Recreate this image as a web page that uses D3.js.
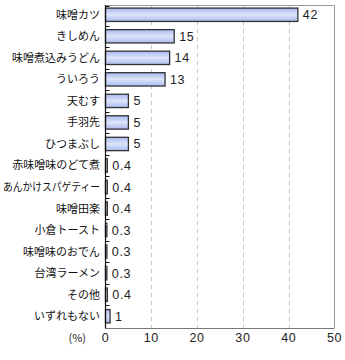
<!DOCTYPE html>
<html><head><meta charset="utf-8">
<script src="https://cdn.jsdelivr.net/npm/d3@7/dist/d3.min.js"></script>
<style>
body{margin:0;background:#fff;}
svg{display:block;}
</style></head>
<body>
<script>
const categories = ["味噌カツ","きしめん","味噌煮込みうどん","ういろう","天むす","手羽先","ひつまぶし","赤味噌味のどて煮","あんかけスパゲティー","味噌田楽","小倉トースト","味噌味のおでん","台湾ラーメン","その他","いずれもない"];
const values = [42,15,14,13,5,5,5,0.4,0.4,0.4,0.3,0.3,0.3,0.4,1];
const valueLabels = ["42","15","14","13","5","5","5","0.4","0.4","0.4","0.3","0.3","0.3","0.4","1"];
const xTicks = [0,10,20,30,40,50];
const unitLabel = "(%)";

const W=345,H=360;
const L=105.5,R=334.5,T=5,B=328;
const svg=d3.select("body").append("svg").attr("width",W).attr("height",H);
const defs=svg.append("defs");
const g=defs.append("linearGradient").attr("id","bg").attr("x1",0).attr("y1",0).attr("x2",0).attr("y2",1);
g.append("stop").attr("offset","0%").attr("stop-color","#a9b9ee");
g.append("stop").attr("offset","50%").attr("stop-color","#dde5fb");
g.append("stop").attr("offset","100%").attr("stop-color","#a9b9ee");

const x=d3.scaleLinear().domain([0,50]).range([L,R]);
const y=d3.scaleBand().domain(categories).range([T-1,B-1]).paddingInner(0.38).paddingOuter(0.19);

// grid lines
svg.append("g").selectAll("line").data(xTicks.filter(t=>t>0&&t<50)).join("line")
  .attr("x1",d=>Math.round(x(d))+0.5).attr("x2",d=>Math.round(x(d))+0.5)
  .attr("y1",T).attr("y2",B)
  .attr("stroke","#c4c4c4").attr("stroke-dasharray","4,4").attr("stroke-width",1);

// frame top/right/bottom
svg.append("path").attr("d",`M${L},${T+0.5}H${R}V${B}`).attr("fill","none").attr("stroke","#999").attr("stroke-width",1);
svg.append("line").attr("x1",L).attr("x2",R).attr("y1",B+0.5).attr("y2",B+0.5).attr("stroke","#777");

// bars
svg.append("g").selectAll("rect").data(values).join("rect")
  .attr("x",x(0)).attr("y",(d,i)=>y(categories[i]))
  .attr("width",d=>x(d)-x(0)).attr("height",y.bandwidth())
  .attr("fill","url(#bg)").attr("stroke","#333").attr("stroke-width",1.3);

// value labels
svg.append("g").selectAll("text").data(values).join("text")
  .attr("x",d=>x(d)+5).attr("y",(d,i)=>y(categories[i])+y.bandwidth()/2)
  .attr("dy","0.36em")
  .style("font-family","'Liberation Sans',Arial,sans-serif").style("font-size","12.5px")
  .style("letter-spacing","0.6px").attr("fill","#222")
  .text((d,i)=>valueLabels[i]);

// left axis
svg.append("line").attr("x1",L).attr("x2",L).attr("y1",T).attr("y2",B+0.5).attr("stroke","#111").attr("stroke-width",1.2);
const step=y.step();
const tickYs=d3.range(categories.length+1).map(i=>i===0?T+0.5:y(categories[i-1])+y.bandwidth()+(step-y.bandwidth())/2);
svg.append("g").selectAll("line").data(tickYs.slice(0,-1)).join("line")
  .attr("x1",L).attr("x2",L+4).attr("y1",d=>Math.round(d)+0.5).attr("y2",d=>Math.round(d)+0.5)
  .attr("stroke","#111");

// category labels
const maxW=97;
svg.append("g").selectAll("text").data(categories).join("text")
  .attr("x",100).attr("y",d=>y(d)+y.bandwidth()/2).attr("dy","0.36em")
  .attr("text-anchor","end")
  .style("font-family","'Noto Sans CJK JP',sans-serif").style("font-size","11px").attr("fill","#111")
  .text(d=>d)
  .each(function(){
    const w=this.getComputedTextLength();
    if(w>maxW){d3.select(this).attr("textLength",maxW).attr("lengthAdjust","spacingAndGlyphs");}
  });

// x tick labels
svg.append("g").selectAll("text").data(xTicks).join("text")
  .attr("x",d=>x(d)).attr("y",342).attr("text-anchor","middle")
  .style("font-family","'Liberation Sans',Arial,sans-serif").style("font-size","12.5px")
  .style("letter-spacing","0.6px").attr("fill","#222")
  .text(d=>d);
svg.append("text").attr("x",86).attr("y",342).attr("text-anchor","end")
  .style("font-family","'Noto Sans CJK JP',sans-serif").style("font-size","11px").attr("fill","#222")
  .text(unitLabel);
</script>
</body></html>
